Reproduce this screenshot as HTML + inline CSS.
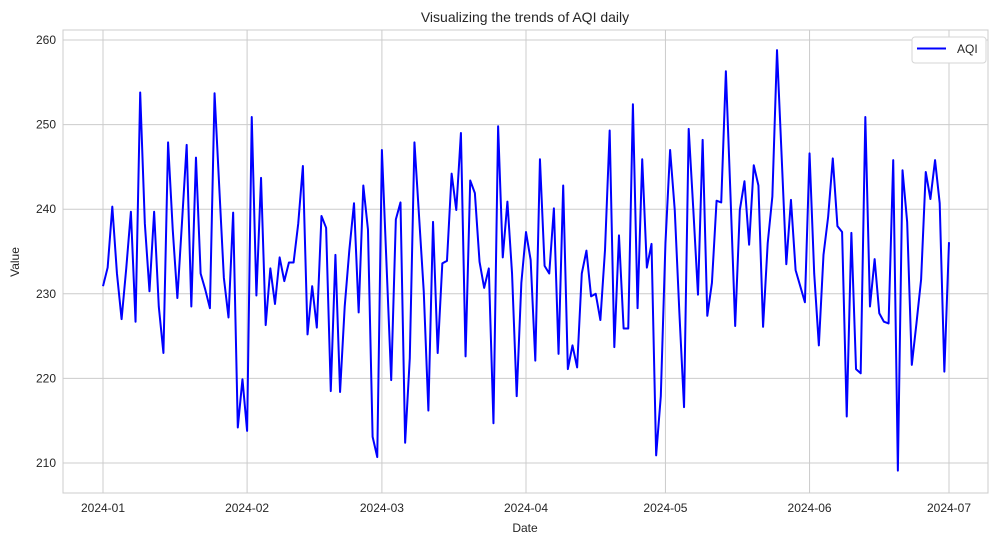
<!DOCTYPE html>
<html><head><meta charset="utf-8"><style>
body{margin:0;background:#fff;}
svg text{font-family:"Liberation Sans",sans-serif;fill:#262626;}
</style></head><body>
<svg id="chart" width="1002" height="545" xmlns="http://www.w3.org/2000/svg">
<text x="525" y="22" font-size="14" text-anchor="middle">Visualizing the trends of AQI daily</text>
<text x="525" y="532" font-size="12" text-anchor="middle">Date</text>
<text x="19" y="262" font-size="12" text-anchor="middle" transform="rotate(-90 19 262)">Value</text>
<g id="grid"></g>
<rect x="63" y="30" width="925" height="463" fill="none" stroke="#cccccc" stroke-width="1"/>
<g id="series"></g>
<g>
<rect x="912" y="37" width="74" height="26" rx="3" fill="#fff" stroke="#d6d6d6"/>
<line x1="917" y1="48.5" x2="946" y2="48.5" stroke="#0000ff" stroke-width="2"/>
<text x="957" y="53" font-size="12">AQI</text>
</g>
</svg>
<script>
const values=[230.9,233.1,240.3,232.4,227.0,233.0,239.7,226.7,253.8,238.3,230.3,239.7,228.5,223.0,247.9,237.6,229.5,238.5,247.6,228.5,246.1,232.4,230.5,228.3,253.7,242.7,231.9,227.2,239.6,214.2,219.9,213.8,250.9,229.8,243.7,226.3,233.0,228.8,234.3,231.5,233.7,233.7,238.3,245.1,225.2,230.9,226.0,239.2,237.8,218.5,234.6,218.4,228.5,235.2,240.7,227.8,242.8,237.6,213.1,210.7,247.0,233.4,219.8,238.8,240.8,212.4,222.4,247.9,239.1,230.3,216.2,238.5,223.0,233.6,233.9,244.2,239.9,249.0,222.6,243.4,241.9,233.8,230.7,233.0,214.7,249.8,234.3,240.9,232.4,217.9,231.3,237.3,234.0,222.1,245.9,233.3,232.4,240.1,222.9,242.8,221.1,223.9,221.3,232.4,235.1,229.7,230.0,226.9,235.2,249.3,223.7,236.9,225.9,225.9,252.4,228.3,245.9,233.1,235.9,210.9,217.9,236.0,247.0,239.9,227.7,216.6,249.5,239.9,229.9,248.2,227.4,231.3,241.0,240.8,256.3,241.5,226.2,239.9,243.3,235.8,245.2,242.8,226.1,236.0,241.5,258.8,246.2,233.5,241.1,232.8,230.9,229.0,246.6,232.4,223.9,234.6,239.1,246.0,238.0,237.3,215.5,237.2,221.1,220.6,250.9,228.5,234.1,227.7,226.7,226.5,245.8,209.1,244.6,238.5,221.6,226.5,231.7,244.4,241.2,245.8,240.7,220.8,236.1];
const xTickLabels=["2024-01","2024-02","2024-03","2024-04","2024-05","2024-06","2024-07"];
const xTickDays=[0,31,60,91,121,152,182];
const yTicks=[210,220,230,240,250,260];
const NS="http://www.w3.org/2000/svg";
const xS=d=>103+d*(949-103)/182;
const yS=v=>463+(v-210)*(40-463)/50;
const grid=document.getElementById('grid');
function mk(t,a){const e=document.createElementNS(NS,t);for(const k in a)e.setAttribute(k,a[k]);return e;}
xTickDays.forEach((d,i)=>{
 const x=xS(d);
 const l=mk('line',{x1:x,x2:x,y1:30,y2:493,stroke:'#cccccc','stroke-width':1});
 
 
 grid.appendChild(l);
 const t=mk('text',{x:x,y:512,'font-size':12,'text-anchor':'middle'});
 
 
 t.textContent=xTickLabels[i];grid.appendChild(t);
});
yTicks.forEach(v=>{
 const y=yS(v);
 const l=mk('line',{x1:63,x2:988,y1:y,y2:y,stroke:'#cccccc','stroke-width':1});
 
 
 grid.appendChild(l);
 const t=mk('text',{x:56,y:y+4,'font-size':12,'text-anchor':'end'});
 
 
 t.textContent=v;grid.appendChild(t);
});
const p=mk('polyline',{points:values.map((v,i)=>xS(i).toFixed(2)+','+yS(v).toFixed(2)).join(' '),fill:'none',stroke:'#0000ff','stroke-width':2,'stroke-linejoin':'round'});


document.getElementById('series').appendChild(p);
</script>
</body></html>
